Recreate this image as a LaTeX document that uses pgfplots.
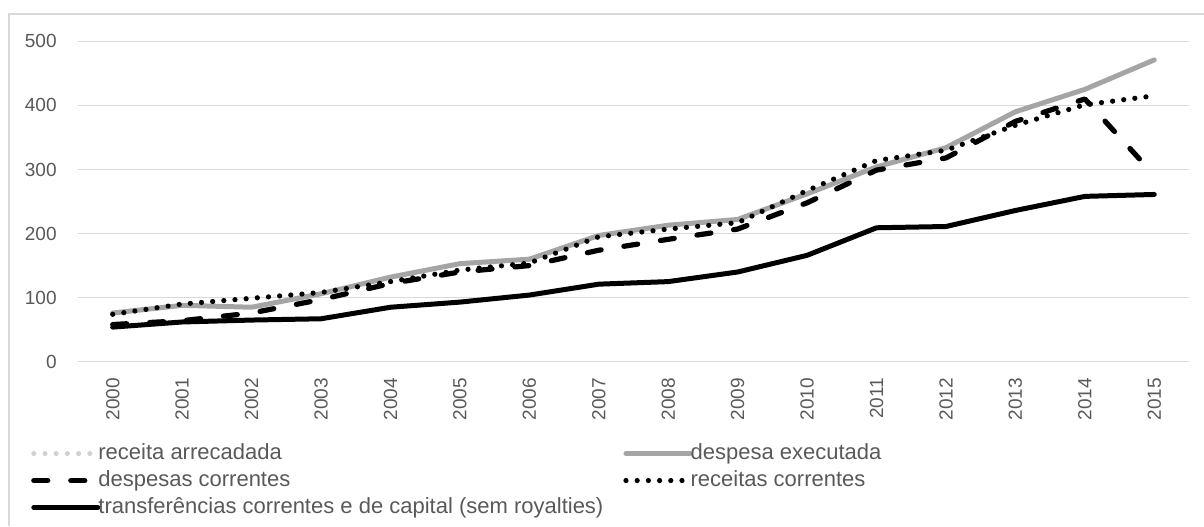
\documentclass[border=0pt]{standalone}
\usepackage{pgfplots}
\usepackage{pgfplotstable}
\pgfplotsset{compat=1.18}
\usepackage{fontspec}
\setmainfont{Liberation Sans}

\definecolor{txtgray}{HTML}{595959}
\definecolor{gridgray}{HTML}{D9D9D9}
\definecolor{midgray}{HTML}{A5A5A5}
\definecolor{lightgray}{HTML}{D0D0D0}

% ano, receita arrecadada, despesa executada, despesas correntes, receitas correntes, transferencias
\pgfplotstableread{
ano  recarr desexe descor reccor transf
2000  74     76     58     74     54
2001  90     88     64     90     62
2002  99     85     76     99     65
2003  108    106    97     108    67
2004  125    132    122    125    85
2005  143    153    140    143    93
2006  154    160    150    154    104
2007  195    197    174    195    121
2008  207    213    191    207    125
2009  217    222    207    217    140
2010  267    262    248    267    166
2011  314    304    299    314    209
2012  330    334    318    330    211
2013  369    390    375    369    236
2014  401    425    410    401    258
2015  415    471    291    415    261
}\dados

\begin{document}
\begin{tikzpicture}
\useasboundingbox (0,0) rectangle (602pt,263pt);
% chart area border
\draw[gridgray, line width=0.6pt] (4.5pt,0pt) -- (4.5pt,256pt) -- (602pt,256pt);
\begin{axis}[
  at={(39pt,82.15pt)}, anchor=south west,
  scale only axis, width=555.5pt, height=160.2pt,
  xmin=1999.5, xmax=2015.5, ymin=0, ymax=500,
  axis line style={draw=none},
  major tick length=0pt,
  xtick={2000,2001,2002,2003,2004,2005,2006,2007,2008,2009,2010,2011,2012,2013,2014,2015},
  xticklabels={2000,2001,2002,2003,2004,2005,2006,2007,2008,2009,2010,2011,2012,2013,2014,2015},
  ytick={0,100,200,300,400,500},
  yticklabels={0,100,200,300,400,500},
  ymajorgrids,
  grid style={gridgray, line width=0.6pt},
  tick label style={font=\fontsize{9.5}{11}\selectfont, text=txtgray},
  xticklabel style={rotate=90, anchor=east, inner xsep=8pt, inner ysep=0pt},
  yticklabel style={anchor=east, inner xsep=10.5pt, inner ysep=0pt},
  legend columns=2,
  legend cell align=left,
  legend style={at={(-0.0425,-0.252)}, anchor=north west, draw=none, fill=none,
    inner sep=0pt, row sep=2.8pt,
    font=\fontsize{11}{13}\selectfont, text=txtgray,
    nodes={inner sep=0pt, text height=8.2pt, text depth=2.5pt},
    /tikz/every odd column/.append style={column sep=-1pt},
    /tikz/every even column/.append style={column sep=10pt}},
  legend image code/.code={\draw[#1] (0pt,0pt) -- (32pt,0pt);},
  every axis plot/.append style={line join=round},
]
\addplot[lightgray, line width=2.5pt, line cap=round, dash pattern=on 0pt off 5.6pt]
  table[x=ano, y=recarr] {\dados};
\addlegendentry{receita arrecadada}
\addplot[midgray, line width=2.5pt, line cap=round]
  table[x=ano, y=desexe] {\dados};
\addlegendentry{despesa executada}
\addplot[black, line width=2.6pt, line cap=round, dash pattern=on 7pt off 11.5pt]
  table[x=ano, y=descor] {\dados};
\addlegendentry{despesas correntes}
\addplot[black, line width=2.6pt, line cap=round, dash pattern=on 0pt off 5.6pt]
  table[x=ano, y=reccor] {\dados};
\addlegendentry{receitas correntes}
\addplot[black, line width=2.5pt, line cap=round]
  table[x=ano, y=transf] {\dados};
\addlegendentry{transferências correntes e de capital (sem royalties)}
\end{axis}
\end{tikzpicture}
\end{document}
